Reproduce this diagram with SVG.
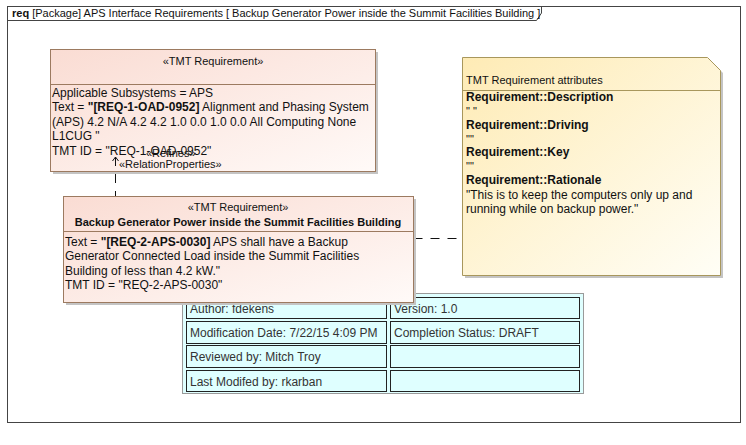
<svg xmlns="http://www.w3.org/2000/svg" width="746" height="445" viewBox="0 0 746 445">
<defs>
<linearGradient id="reqFill" x1="0" y1="0" x2="1" y2="1">
<stop offset="0" stop-color="#FADCD3"/>
<stop offset="1" stop-color="#FFFAF8"/>
</linearGradient>
<linearGradient id="noteFill" x1="0" y1="0" x2="1" y2="1">
<stop offset="0" stop-color="#FEEBB5"/>
<stop offset="1" stop-color="#FFFEF6"/>
</linearGradient>
<style>
text{font-family:"Liberation Sans",Arial,sans-serif;fill:#111;}
.t11{font-size:11px;}
.t12{font-size:12px;}
.b{font-weight:bold;}
.mid{text-anchor:middle;}
.box{fill:url(#reqFill);stroke:#9C7A60;stroke-width:1;}
.shadow{fill:#C4C4C4;}
.note{fill:url(#noteFill);stroke:#A8975C;stroke-width:1;}
.cell{fill:none;stroke:#222;stroke-width:1;}
.tc{font-size:12px;fill:#333;}
.dash{fill:none;stroke:#111;stroke-width:1;stroke-dasharray:9 8;}
</style>
</defs>
<rect width="746" height="445" fill="#FFFFFF"/>
<g id="frame">
<rect x="7.5" y="6.5" width="733" height="416" fill="none" stroke="#444"/>
<polyline points="7.5,20.5 536.5,20.5 541.5,13 541.5,6.5" fill="none" stroke="#444"/>
<text class="t11" x="12" y="17"><tspan class="b">req</tspan> [Package] APS Interface Requirements [ Backup Generator Power inside the Summit Facilities Building ]</text>
</g>
<g id="table">
<rect x="182.5" y="293.5" width="401" height="100" fill="#DFFFFF" stroke="#9A9A9A"/>
<rect class="cell" x="186.5" y="297.5" width="200" height="21"/>
<rect class="cell" x="390.5" y="297.5" width="189" height="21"/>
<rect class="cell" x="186.5" y="321.5" width="200" height="22"/>
<rect class="cell" x="390.5" y="321.5" width="189" height="22"/>
<rect class="cell" x="186.5" y="345.5" width="200" height="22"/>
<rect class="cell" x="390.5" y="345.5" width="189" height="22"/>
<rect class="cell" x="186.5" y="370.5" width="200" height="21"/>
<rect class="cell" x="390.5" y="370.5" width="189" height="21"/>
<text class="tc" x="190" y="312.5">Author: fdekens</text>
<text class="tc" x="394" y="312.5">Version: 1.0</text>
<text class="tc" x="190" y="337">Modification Date: 7/22/15 4:09 PM</text>
<text class="tc" x="394" y="337">Completion Status: DRAFT</text>
<text class="tc" x="190" y="361">Reviewed by: Mitch Troy</text>
<text class="tc" x="190" y="385.5">Last Modifed by: rkarban</text>
</g>
<g id="req1">
<rect class="shadow" x="53" y="52" width="325" height="122"/>
<rect class="box" x="50.5" y="49.5" width="325" height="122"/>
<line x1="50.5" y1="84.5" x2="375.5" y2="84.5" stroke="#9C7A60"/>
<text class="t11 mid" x="213" y="65">«TMT Requirement»</text>
<text class="t12" x="52" y="96.5">Applicable Subsystems = APS</text>
<text class="t12" x="52" y="111">Text = <tspan class="b">"[REQ-1-OAD-0952]</tspan> Alignment and Phasing System</text>
<text class="t12" x="52" y="125.5">(APS) 4.2 N/A 4.2 4.2 1.0 0.0 1.0 0.0 All Computing None</text>
<text class="t12" x="52" y="140">L1CUG "</text>
<text class="t12" x="52" y="154.5">TMT ID = "REQ-1-OAD-0952"</text>
</g>
<g id="note">
<polygon class="shadow" points="465,60 710,60 723,73 723,278 465,278"/>
<polygon class="note" points="462.5,57.5 707.5,57.5 720.5,70.5 720.5,275.5 462.5,275.5"/>
<line x1="462.5" y1="90.5" x2="720.5" y2="90.5" stroke="#A8975C"/>
<text class="t11" x="466" y="83.5">TMT Requirement attributes</text>
<text class="t12 b" x="466" y="101">Requirement::Description</text>
<text class="t11" x="466" y="115">" "</text>
<text class="t12 b" x="466" y="129">Requirement::Driving</text>
<text class="t11" x="466" y="143">""</text>
<text class="t12 b" x="466" y="156">Requirement::Key</text>
<text class="t11" x="466" y="170">""</text>
<text class="t12 b" x="466" y="183.5">Requirement::Rationale</text>
<text class="t12" x="466" y="198.5">"This is to keep the computers only up and</text>
<text class="t12" x="466" y="213">running while on backup power."</text>
</g>
<g id="connectors">
<line class="dash" x1="115.5" y1="157" x2="115.5" y2="197"/>
<polyline points="112.5,161 115.5,157 118.5,161" fill="none" stroke="#111"/>
<text class="t11" x="146" y="157">«Refines»</text>
<text class="t11" x="119" y="167.5">«RelationProperties»</text>
<line class="dash" x1="413.5" y1="238.5" x2="462.5" y2="238.5" stroke-dasharray="10 9"/>
</g>
<g id="req2">
<rect class="shadow" x="66" y="199" width="350" height="106"/>
<rect class="box" x="63.5" y="196.5" width="350" height="106"/>
<line x1="63.5" y1="231.5" x2="413.5" y2="231.5" stroke="#9C7A60"/>
<text class="t11 mid" x="238" y="211">«TMT Requirement»</text>
<text class="t11 b mid" x="238" y="225.5">Backup Generator Power inside the Summit Facilities Building</text>
<text class="t12" x="65" y="245.5">Text = <tspan class="b">"[REQ-2-APS-0030]</tspan> APS shall have a Backup</text>
<text class="t12" x="65" y="260">Generator Connected Load inside the Summit Facilities</text>
<text class="t12" x="65" y="274.5">Building of less than 4.2 kW."</text>
<text class="t12" x="65" y="289">TMT ID = "REQ-2-APS-0030"</text>
</g>
</svg>
